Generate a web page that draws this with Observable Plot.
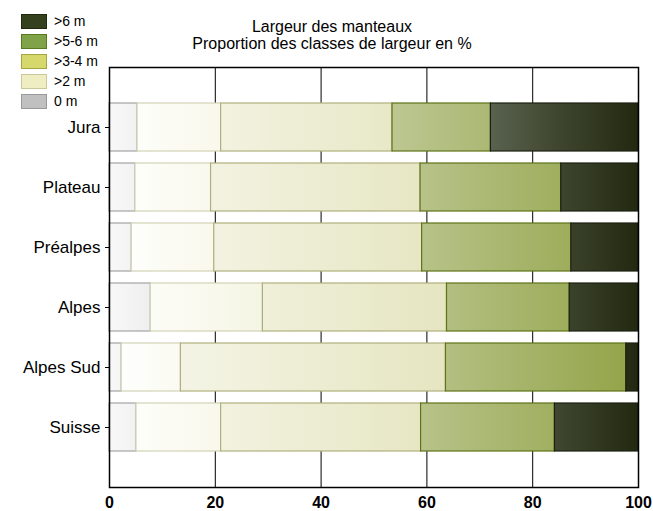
<!DOCTYPE html>
<html>
<head>
<meta charset="utf-8">
<script src="https://cdn.jsdelivr.net/npm/d3@7"></script>
<script src="https://cdn.jsdelivr.net/npm/@observablehq/plot@0.6"></script>
<style>
  html, body { margin: 0; padding: 0; background: #fff; }
  #wrap { position: relative; width: 653px; height: 511px; font-family: "Liberation Sans", Arial, sans-serif; }
  #wrap svg { position: absolute; left: 0; top: 0; }
  .title { position: absolute; left: 132px; width: 400px; text-align: center; font-size: 16px; line-height: 18px; color: #000; white-space: nowrap; }
  .leg { position: absolute; left: 21px; width: 26px; height: 15px; box-sizing: border-box; border: 1.5px solid; }
  .legt { position: absolute; left: 54px; font-size: 14px; line-height: 15px; color: #000; white-space: nowrap; }
</style>
</head>
<body>
<div id="wrap"></div>
<script>
const categories = ["Jura", "Plateau", "Préalpes", "Alpes", "Alpes Sud", "Suisse"];
const classes = ["0 m", ">2 m", ">3-4 m", ">5-6 m", ">6 m"];
const zero = [5.3, 4.9, 4.2, 7.8, 2.3, 5.1];
const gt2 = [15.8, 14.3, 15.6, 21.2, 11.2, 16.0];
const gt34 = [32.4, 39.6, 39.3, 34.8, 50.1, 37.8];
const gt56 = [18.6, 26.6, 28.2, 23.2, 34.1, 25.3];
const gt6 = [27.9, 14.6, 12.7, 13.0, 2.3, 15.8];
const xTicks = [0, 20, 40, 60, 80, 100];
const gridTicks = [20, 40, 60, 80];
const titleLines = ["Largeur des manteaux", "Proportion des classes de largeur en %"];

const series = [zero, gt2, gt34, gt56, gt6];
const strokes = ["#a3a3a3", "#d2d2b6", "#b0b07e", "#5e7418", "#1c2010"];
const legendFill = ["#c0c0c0", "#eeeec2", "#d6d86c", "#80a248", "#35401f"];
const legendStroke = ["#999999", "#c9c99a", "#a5a544", "#5b7a1f", "#20280e"];
const gradStops = [
  [[0, "#f8f8f8"], [0.1, "#ececec"]],
  [[0, "#ffffff"], [0.3, "#f5f5e3"]],
  [[0.1, "#f5f5e8"], [0.65, "#e5e5c0"]],
  [[0.5, "#c0c997"], [0.98, "#93a54a"]],
  [[0.7, "#5d6754"], [0.85, "#3f462f"], [1, "#222910"]]
];

const rows = [];
categories.forEach((c, i) => {
  classes.forEach((k, j) => {
    rows.push({cat: c, cls: k, ci: j, value: series[j][i]});
  });
});

const W = 653, H = 511, mL = 109, mR = 15, mT = 67, mB = 24;

const plot = Plot.plot({
  width: W,
  height: H,
  marginLeft: mL,
  marginRight: mR,
  marginTop: mT,
  marginBottom: mB,
  style: {fontFamily: '"Liberation Sans", Arial, sans-serif', background: "transparent", color: "#000"},
  x: {domain: [0, 100]},
  y: {type: "band", domain: categories, paddingInner: 0.2, paddingOuter: 0.6},
  color: {type: "identity"},
  marks: [
    Plot.ruleX(gridTicks, {stroke: "#000", strokeWidth: 1}),
    Plot.barX(rows, Plot.stackX({
      x: "value",
      y: "cat",
      fill: d => `url(#grad${d.ci})`,
      stroke: d => strokes[d.ci],
      strokeWidth: 1.2
    })),
    Plot.frame({stroke: "#000", strokeWidth: 1.5}),
    Plot.axisX({ticks: xTicks, tickSize: 0, tickPadding: 9, fontSize: 16, fontWeight: "bold", label: null}),
    Plot.axisY({tickSize: 4, tickPadding: 5, fontSize: 17, label: null})
  ]
});

const svg = d3.select(plot);
const defs = svg.insert("defs", ":first-child");
gradStops.forEach((stops, j) => {
  const g = defs.append("linearGradient")
    .attr("id", "grad" + j)
    .attr("gradientUnits", "userSpaceOnUse")
    .attr("x1", mL).attr("x2", W - mR).attr("y1", 0).attr("y2", 0);
  stops.forEach(([o, c]) => g.append("stop").attr("offset", o).attr("stop-color", c));
});

const wrap = document.getElementById("wrap");
wrap.appendChild(plot);

titleLines.forEach((t, i) => {
  const d = document.createElement("div");
  d.className = "title";
  d.style.top = (18 + i * 17) + "px";
  d.textContent = t;
  wrap.appendChild(d);
});

// legend: top entry is the last class
for (let i = 0; i < classes.length; i++) {
  const j = classes.length - 1 - i;
  const sw = document.createElement("div");
  sw.className = "leg";
  sw.style.top = (14 + i * 20) + "px";
  sw.style.background = legendFill[j];
  sw.style.borderColor = legendStroke[j];
  wrap.appendChild(sw);
  const tx = document.createElement("div");
  tx.className = "legt";
  tx.style.top = (14 + i * 20) + "px";
  tx.textContent = classes[j];
  wrap.appendChild(tx);
}
</script>
</body>
</html>
